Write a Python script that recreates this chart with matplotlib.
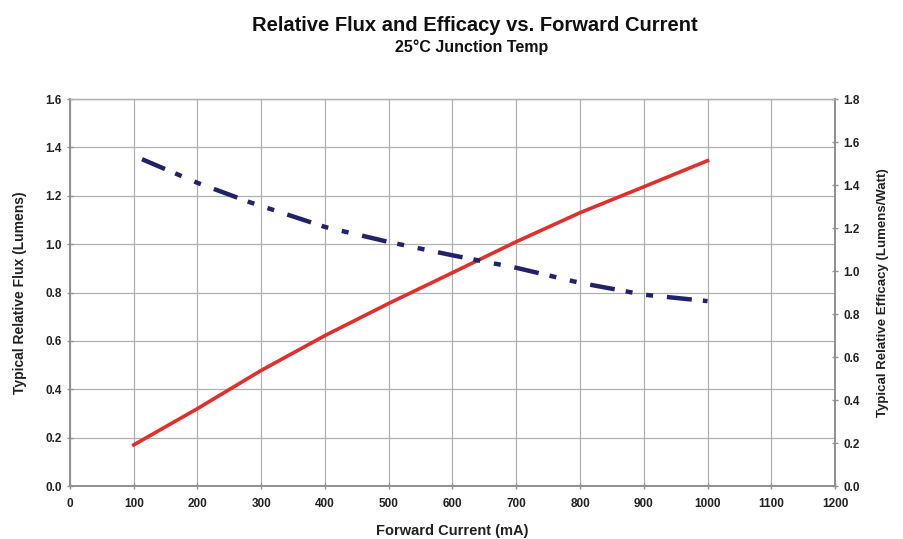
import numpy as np
import matplotlib.pyplot as plt

plt.rcParams['font.family'] = ['Liberation Sans', 'DejaVu Sans']
plt.rcParams['lines.scale_dashes'] = False

# relative flux (left axis)
flux_current = [100, 200, 300, 400, 500, 600, 700, 800, 900, 1000]
flux_values = [0.17, 0.32, 0.478, 0.622, 0.755, 0.882, 1.01, 1.13, 1.237, 1.345]

# relative efficacy (right axis)
eff_current = [113, 200, 282, 400, 500, 600, 700, 800, 900, 1000]
eff_values = [1.52, 1.41, 1.32, 1.205, 1.135, 1.073, 1.015, 0.945, 0.89, 0.86]

fig = plt.figure(figsize=(9.04, 5.39), dpi=100)
ax = fig.add_axes([0.0774, 0.0983, 0.8463, 0.718])
ax2 = ax.twinx()

grid_col = '#b0b0b0'
ax.plot(flux_current, flux_values, color='#e0302c', lw=2.6, zorder=3)
ax2.plot(eff_current, eff_values, color='#22226a', lw=3.2,
         dashes=(18, 8, 5, 10, 5, 10))

ax.set_xlim(0, 1200)
ax.set_ylim(0, 1.6)
ax2.set_ylim(0, 1.8)
ax.set_xticks(np.arange(0, 1201, 100))
ax.set_yticks(np.arange(0, 1.61, 0.2))
ax2.set_yticks(np.arange(0, 1.81, 0.2))
ax.set_yticklabels(['%.1f' % v for v in np.arange(0, 1.61, 0.2)])
ax2.set_yticklabels(['%.1f' % v for v in np.arange(0, 1.81, 0.2)])

ax.grid(True, color=grid_col, lw=0.9)
ax.set_axisbelow(True)

for a in (ax, ax2):
    for s in a.spines.values():
        s.set_color('#909090')
        s.set_linewidth(1.2)
    a.spines['top'].set_color(grid_col)
    a.spines['top'].set_linewidth(0.9)
    a.tick_params(colors='#909090', labelcolor='#222222', labelsize=8.5,
                  direction='inout', length=5, width=1)
    for lab in a.get_xticklabels() + a.get_yticklabels():
        lab.set_fontweight('bold')

ax.tick_params(axis='x', pad=6)
ax.set_xlabel('Forward Current (mA)', fontsize=10.5, fontweight='bold',
              color='#222222', labelpad=10)
ax.set_ylabel('Typical Relative Flux (Lumens)', fontsize=10, fontweight='bold',
              color='#222222', labelpad=13)
ax2.set_ylabel('Typical Relative Efficacy (Lumens/Watt)', fontsize=9.5,
               fontweight='bold', color='#222222', labelpad=12)

fig.text(0.525, 0.953, 'Relative Flux and Efficacy vs. Forward Current',
         ha='center', va='center', fontsize=14.5, fontweight='bold', color='#111111')
fig.text(0.522, 0.912, '25°C Junction Temp', ha='center', va='center',
         fontsize=11.5, fontweight='bold', color='#111111')

fig.savefig('out.png', dpi=100)
